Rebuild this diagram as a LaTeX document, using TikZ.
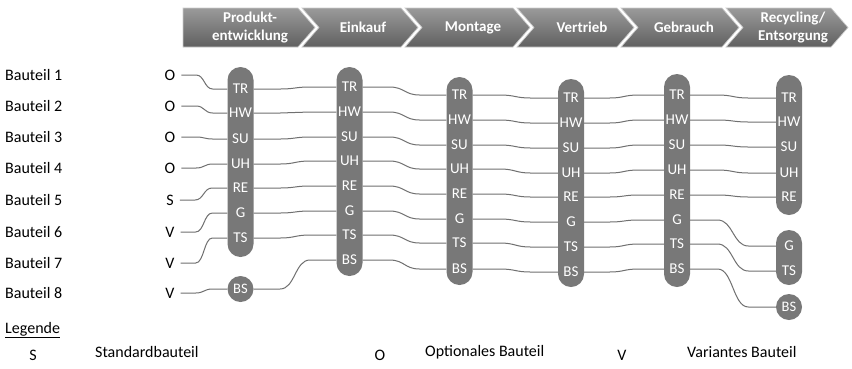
\documentclass[tikz,border=0pt]{standalone}
\usepackage{fontspec}
\setmainfont{Carlito}
\usetikzlibrary{calc}
\definecolor{pillc}{HTML}{787878}
\definecolor{linec}{HTML}{707070}
\definecolor{chevtop}{HTML}{9A9A9A}
\definecolor{chevbot}{HTML}{606060}
\newcommand\myconn[2]{\draw[conn] let \p1=(#1.east), \p2=(#2.west) in (\p1) -- ({\x1+0.32*(\x2-\x1)},\y1) .. controls ({\x1+0.5*(\x2-\x1)},\y1) and ({\x1+0.5*(\x2-\x1)},\y2) .. ({\x1+0.68*(\x2-\x1)},\y2) -- (\p2);}
\begin{document}
\begin{tikzpicture}[x=1pt,y=-1pt,
  lab/.style={text=white,font=\fontsize{15}{15}\selectfont,minimum width=26pt,minimum height=14pt,inner sep=0pt},
  pill/.style={fill=pillc,rounded corners=13pt,minimum width=26pt,inner sep=0pt},
  bsc/.style={circle,fill=pillc,text=white,font=\fontsize{14.5}{14.5}\selectfont,minimum size=26pt,inner sep=0pt},
  conn/.style={draw=linec,line width=1pt},
  part/.style={font=\fontsize{16}{16}\selectfont,anchor=west,inner sep=0pt},
  typ/.style={font=\fontsize{16}{16}\selectfont,inner xsep=6pt,inner ysep=0pt},
  chev/.style={top color=chevtop,bottom color=chevbot,draw=white!80!black,line width=0.7pt},
  htext/.style={text=white,font=\bfseries\fontsize{15}{17.5}\selectfont,align=center}
]
\useasboundingbox (0,0) rectangle (852,368);
\fill[white] (0,0) rectangle (852,368);

% header chevrons
\path[chev] (183,8) -- (298,8) -- (315,27.5) -- (298,47) -- (183,47) -- cycle;
\path[chev] (302,8) -- (401,8) -- (418,27.5) -- (401,47) -- (302,47) -- (319,27.5) -- cycle;
\path[chev] (405,8) -- (513,8) -- (530,27.5) -- (513,47) -- (405,47) -- (422,27.5) -- cycle;
\path[chev] (517,8) -- (617,8) -- (634,27.5) -- (617,47) -- (517,47) -- (534,27.5) -- cycle;
\path[chev] (621,8) -- (722,8) -- (739,27.5) -- (722,47) -- (621,47) -- (638,27.5) -- cycle;
\path[chev] (726,8) -- (831,8) -- (848,27.5) -- (831,47) -- (726,47) -- (743,27.5) -- cycle;
\node[htext] (h1) at (250,27.5) {Produkt-\\entwicklung};
\node[htext] (h2) at (363,27.5) {Einkauf};
\node[htext] (h3) at (473,27.5) {Montage};
\node[htext] (h4) at (582,27.5) {Vertrieb};
\node[htext] (h5) at (684,27.5) {Gebrauch};
\node[htext] (h6) at (793,27.5) {Recycling/\\Entsorgung};

% parts
\foreach \i/\yy/\t in {1/75/O,2/106/O,3/137/O,4/168/O,5/200/S,6/232/V,7/263/V,8/293/V}{
  \node[part] (b\i) at (5,\yy) {Bauteil \i};
  \node[typ] (o\i) at (170,\yy) {\t};
}

% pills
\node[pill,minimum height=190pt] (p1) at (240.5,162) {};
\node[pill,minimum height=209pt] (p2) at (349.5,171.5) {};
\node[pill,minimum height=208pt] (p3) at (459.5,181) {};
\node[pill,minimum height=208pt] (p4) at (571,183) {};
\node[pill,minimum height=213pt] (p5) at (677,180.5) {};
\node[pill,minimum height=140pt] (p6) at (789,145) {};
\node[pill,minimum height=55pt] (p7) at (789,257.5) {};

% labels column 1
\foreach \k/\t/\yy in {tr/TR/89,hw/HW/113,su/SU/139,uh/UH/164,re/RE/188,g/G/213,ts/TS/238}
  \node[lab] (c1\k) at (240.5,\yy) {\t};
\node[bsc] (c1bs) at (240.5,289) {BS};
% column 2
\foreach \k/\t/\yy in {tr/TR/87,hw/HW/112,su/SU/137,uh/UH/161,re/RE/186,g/G/211,ts/TS/235,bs/BS/260}
  \node[lab] (c2\k) at (349.5,\yy) {\t};
% column 3
\foreach \k/\t/\yy in {tr/TR/95,hw/HW/120,su/SU/145,uh/UH/169,re/RE/194,g/G/219,ts/TS/243,bs/BS/269}
  \node[lab] (c3\k) at (459.5,\yy) {\t};
% column 4
\foreach \k/\t/\yy in {tr/TR/98,hw/HW/123,su/SU/148,uh/UH/173,re/RE/197,g/G/222,ts/TS/247,bs/BS/272}
  \node[lab] (c4\k) at (571,\yy) {\t};
% column 5
\foreach \k/\t/\yy in {tr/TR/95,hw/HW/120,su/SU/145,uh/UH/170,re/RE/195,g/G/220,ts/TS/244,bs/BS/269}
  \node[lab] (c5\k) at (677,\yy) {\t};
% column 6
\foreach \k/\t/\yy in {tr/TR/98,hw/HW/122,su/SU/147,uh/UH/173,re/RE/197,g/G/246,ts/TS/271}
  \node[lab] (c6\k) at (789,\yy) {\t};
\node[bsc] (c6bs) at (789,307) {BS};

% connectors
\foreach \i/\k in {1/tr,2/hw,3/su,4/uh,5/re,6/g,7/ts,8/bs}
  \myconn{o\i}{c1\k};
\foreach \a/\b in {1/2,2/3,3/4,4/5,5/6}
  \foreach \k in {tr,hw,su,uh,re,g,ts,bs}
    \myconn{c\a\k}{c\b\k};

% legend
\node[part] (leg) at (5,330) {\underline{Legende}};
\node[typ] (ls) at (33,355) {S};
\node[part] (lst) at (95,352) {Standardbauteil};
\node[typ] (lo) at (380,355) {O};
\node[part] (lot) at (425,352) {Optionales Bauteil};
\node[typ] (lv) at (622,355) {V};
\node[part] (lvt) at (687,352) {Variantes Bauteil};
\end{tikzpicture}
\end{document}
